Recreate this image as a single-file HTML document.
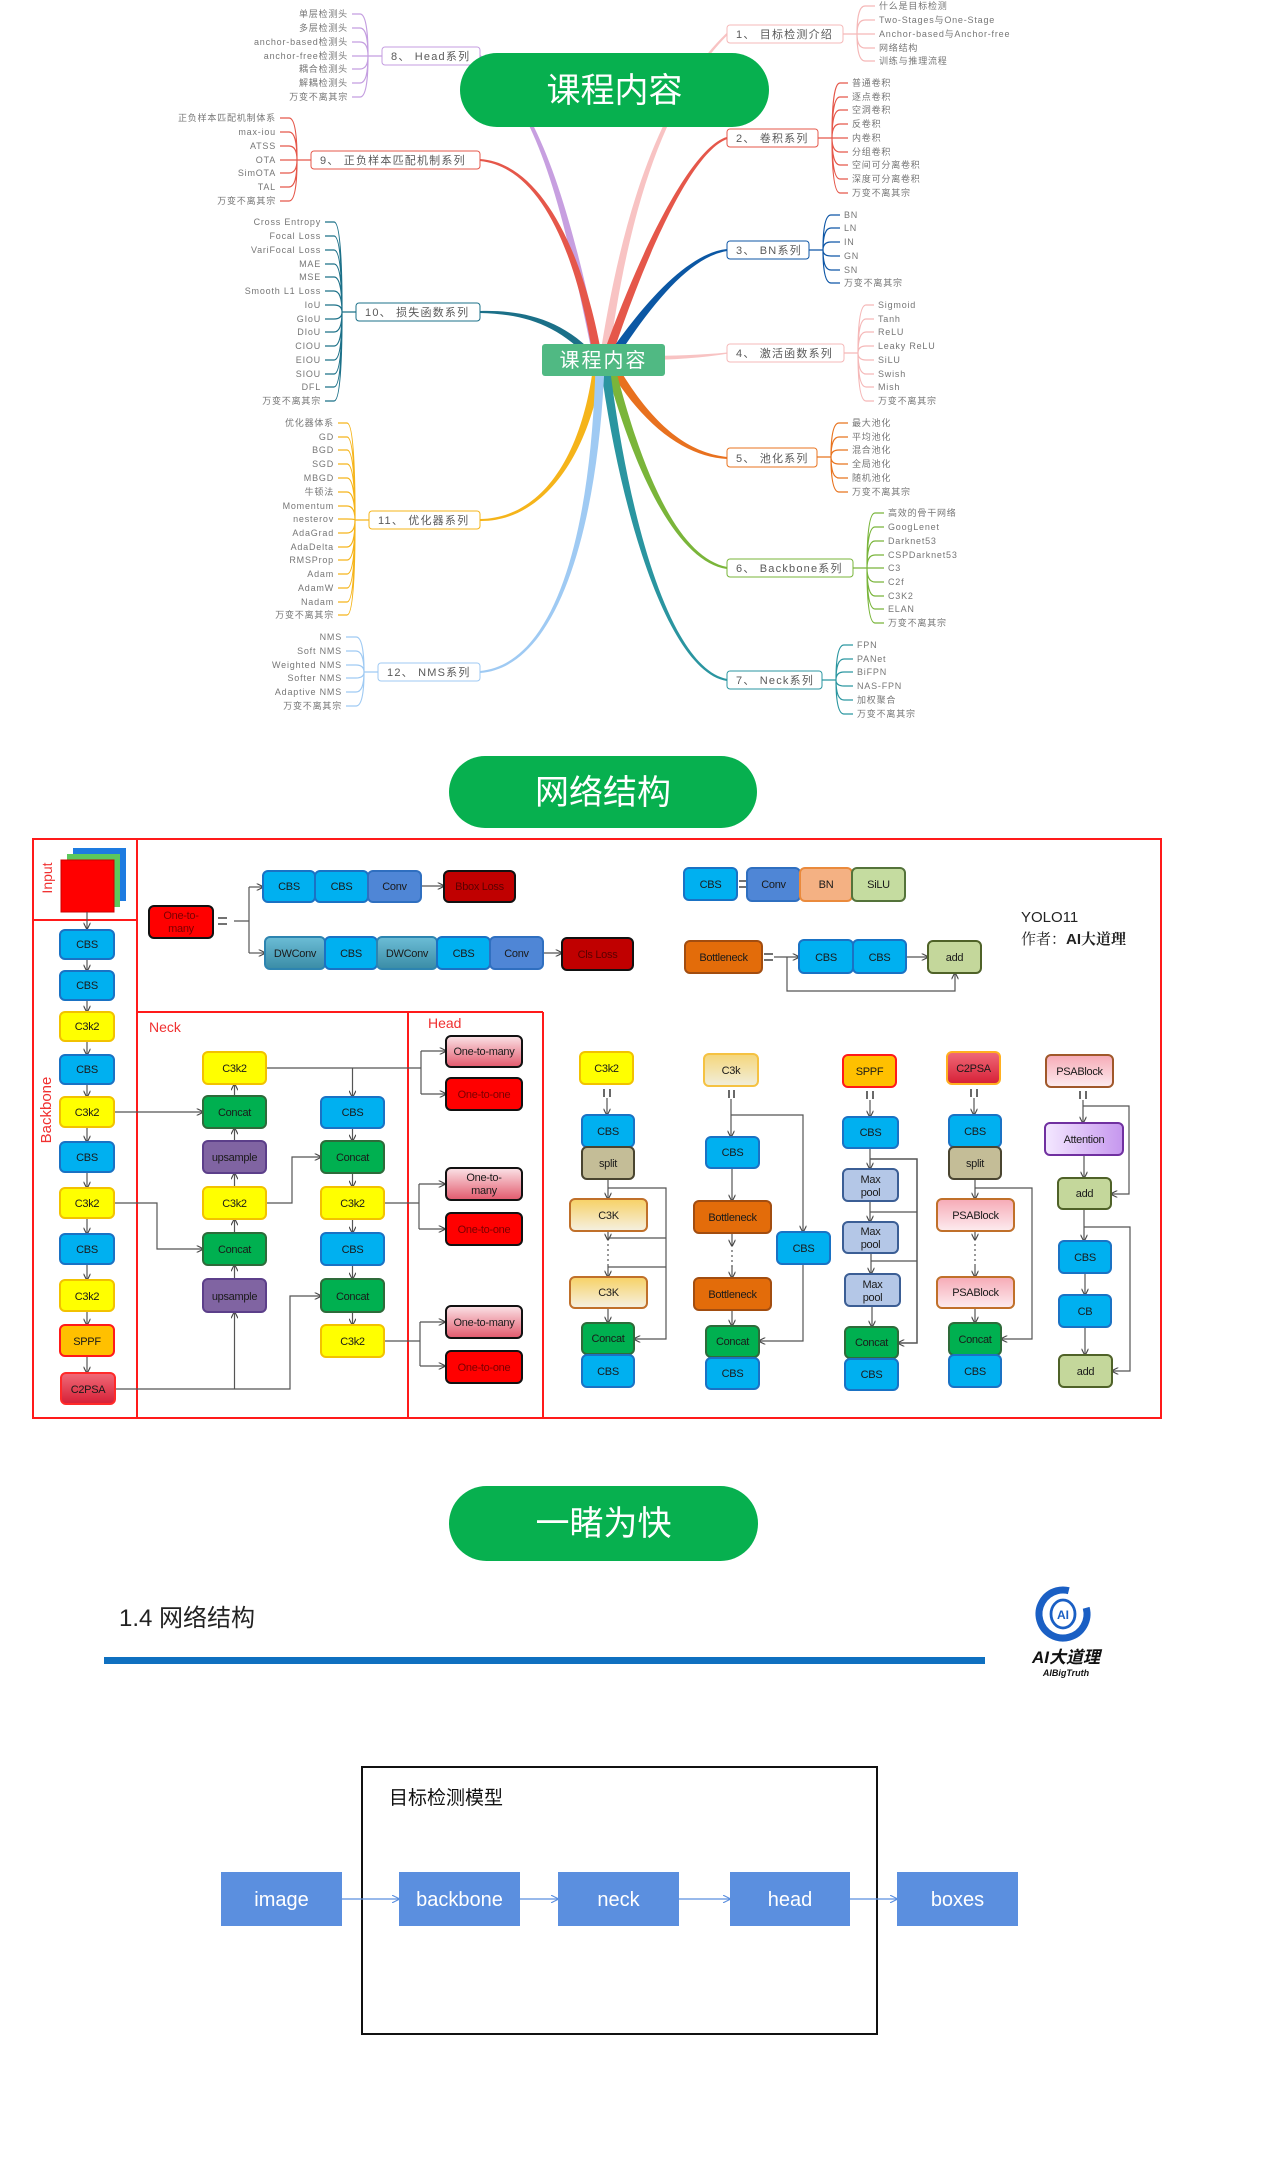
<!DOCTYPE html>
<html><head><meta charset="utf-8">
<style>
html,body{margin:0;padding:0;background:#fff;}
svg{display:block;}
.f{font-family:"Liberation Sans","Noto Sans CJK SC",sans-serif;}
.mc{font-size:9px;fill:#767676;letter-spacing:0.8px;}
.mcl{font-size:9px;fill:#767676;letter-spacing:0.8px;text-anchor:end;}
.mb{font-size:11px;fill:#5a5a5a;letter-spacing:1.2px;}
.nt{font-size:11px;fill:#1a1a1a;text-anchor:middle;letter-spacing:-0.3px;}
.ln{stroke:#555;stroke-width:1.2;fill:none;}
.bx{stroke-width:2;}
.mp{fill:none;stroke-width:1.2;}
</style></head><body>
<svg class="f" width="1280" height="2160" viewBox="0 0 1280 2160" xmlns="http://www.w3.org/2000/svg">
<defs>
<marker id="a" viewBox="0 0 10 10" refX="9" refY="5" markerWidth="7" markerHeight="7" orient="auto" markerUnits="userSpaceOnUse"><path d="M0,0 L10,5 L0,10" fill="none" stroke="#444" stroke-width="1.6"/></marker>
<marker id="ab" viewBox="0 0 10 10" refX="9" refY="5" markerWidth="8" markerHeight="8" orient="auto" markerUnits="userSpaceOnUse"><path d="M0,0 L10,5 L0,10" fill="none" stroke="#5b8fdf" stroke-width="1.4"/></marker>
<linearGradient id="gOtm" x1="0" y1="0" x2="0" y2="1"><stop offset="0" stop-color="#fbe3e7"/><stop offset="1" stop-color="#e2596c"/></linearGradient>
<linearGradient id="gC2" x1="0" y1="0" x2="0" y2="1"><stop offset="0" stop-color="#f06a78"/><stop offset="1" stop-color="#d61f36"/></linearGradient>
<linearGradient id="gC3k" x1="0" y1="0" x2="0" y2="1"><stop offset="0" stop-color="#f5d67a"/><stop offset="1" stop-color="#f1eedc"/></linearGradient>
<linearGradient id="gC3K" x1="0" y1="0" x2="0" y2="1"><stop offset="0" stop-color="#f7d165"/><stop offset="1" stop-color="#f5f0e2"/></linearGradient>
<linearGradient id="gPSA" x1="0" y1="0" x2="0" y2="1"><stop offset="0" stop-color="#f6aab6"/><stop offset="1" stop-color="#fdecef"/></linearGradient>
<linearGradient id="gAtt" x1="0" y1="0" x2="1" y2="0"><stop offset="0" stop-color="#f4e8ff"/><stop offset="1" stop-color="#c596ee"/></linearGradient>
<linearGradient id="gDW" x1="0" y1="0" x2="0" y2="1"><stop offset="0" stop-color="#6cbdd6"/><stop offset="1" stop-color="#3a8ca6"/></linearGradient>
</defs>

<!-- ================= MIND MAP ================= -->
<g stroke="none">
<path fill="#c79fe0" d="M602.4,359.1 C573.4,229.3 546.3,108.5 480.6,55.2 L479.4,56.8 C543.7,111.5 566.6,230.7 593.6,360.9 Z"/>
<path fill="#f8c3c3" d="M608.5,360.6 C623.5,250.5 651.4,111.4 727.7,34.7 L726.3,33.3 C648.6,108.6 616.5,249.5 599.5,359.4 Z"/>
<path fill="#e5574a" d="M610.3,361.5 C643.3,261.1 690.6,151.9 727.3,139.0 L726.7,137.0 C689.4,148.1 636.7,258.9 601.7,358.6 Z"/>
<path fill="#0b57a4" d="M613.7,362.5 C652.9,301.9 690.3,257.0 727.1,251.0 L726.9,249.0 C689.7,253.0 647.1,298.1 606.3,357.5 Z"/>
<path fill="#f8c3c3" d="M640,356 Q690,356 727,352.5 L727,353.8 Q690,360 640,360 Z"/>
<path fill="#e8711f" d="M608.1,367.3 C647.0,431.8 689.8,457.0 726.9,459.0 L727.1,457.0 C690.2,453.0 653.0,428.2 615.9,362.7 Z"/>
<path fill="#7ab53a" d="M605.6,366.1 C636.6,480.9 679.7,562.0 726.8,569.0 L727.2,567.0 C680.3,558.0 643.4,479.1 614.4,363.9 Z"/>
<path fill="#2a95a0" d="M600.5,365.6 C621.5,520.4 669.7,672.0 726.8,681.0 L727.2,679.0 C670.3,668.0 628.5,519.6 609.5,364.4 Z"/>
<path fill="#e5574a" d="M602.4,359.3 C583.5,249.4 540.2,163.0 480.1,159.0 L479.9,161.0 C539.8,167.0 576.5,250.6 593.6,360.7 Z"/>
<path fill="#1b7088" d="M597.6,357.7 C562.6,317.7 520,310 480,311 L480,313 C520,314 557.4,322.3 592.4,362.3 Z"/>
<path fill="#f5b41a" d="M593.5,364.4 C581.5,459.5 540,518 480,519 L480,521 C540,522 588.5,460.5 602.5,365.6 Z"/>
<path fill="#9fcaf3" d="M595.5,364.9 C591.5,519.9 559.8,663.0 479.9,671.0 L480.1,673.0 C560.2,667.0 598.5,520.1 604.5,365.1 Z"/>
</g>

<!-- child connectors -->
<path class="mp" stroke="#f5b8b8" d="M843,34H857M857,34Q857,6 865,6H875M857,34Q857,20 865,20H875M857,34H875M857,34Q857,48 865,48H875M857,34Q857,61 865,61H875"/>
<path class="mp" stroke="#e5574a" d="M818,138H848M832,138Q832,83 840,83H848M832,138Q832,97 840,97H848M832,138Q832,110 840,110H848M832,138Q832,124 840,124H848M832,138Q832,152 840,152H848M832,138Q832,165 840,165H848M832,138Q832,179 840,179H848M832,138Q832,193 840,193H848"/>
<path class="mp" stroke="#0d56a6" d="M809,250H823M823,250Q823,215 831,215H840M823,250Q823,228 831,228H840M823,250Q823,242 831,242H840M823,250Q823,256 831,256H840M823,250Q823,270 831,270H840M823,250Q823,283 831,283H840"/>
<path class="mp" stroke="#f5b8b8" d="M844,353H858M858,353Q858,305 866,305H874M858,353Q858,319 866,319H874M858,353Q858,332 866,332H874M858,353Q858,346 866,346H874M858,353Q858,360 866,360H874M858,353Q858,374 866,374H874M858,353Q858,387 866,387H874M858,353Q858,401 866,401H874"/>
<path class="mp" stroke="#e8731f" d="M817,457H831M831,457Q831,423 839,423H848M831,457Q831,437 839,437H848M831,457Q831,450 839,450H848M831,457Q831,464 839,464H848M831,457Q831,478 839,478H848M831,457Q831,492 839,492H848"/>
<path class="mp" stroke="#79b53a" d="M853,568H884M867,568Q867,513 875,513H884M867,568Q867,527 875,527H884M867,568Q867,541 875,541H884M867,568Q867,555 875,555H884M867,568Q867,582 875,582H884M867,568Q867,596 875,596H884M867,568Q867,609 875,609H884M867,568Q867,623 875,623H884"/>
<path class="mp" stroke="#2a96a0" d="M822,680H836M836,680Q836,645 844,645H853M836,680Q836,659 844,659H853M836,680Q836,672 844,672H853M836,680Q836,686 844,686H853M836,680Q836,700 844,700H853M836,680Q836,714 844,714H853"/>
<path class="mp" stroke="#c49ee0" d="M382,56H352M368,56Q368,14 360,14H352M368,56Q368,28 360,28H352M368,56Q368,42 360,42H352M368,56Q368,69 360,69H352M368,56Q368,83 360,83H352M368,56Q368,97 360,97H352"/>
<path class="mp" stroke="#e5574a" d="M311,160H280M297,160Q297,118 289,118H280M297,160Q297,132 289,132H280M297,160Q297,146 289,146H280M297,160Q297,173 289,173H280M297,160Q297,187 289,187H280M297,160Q297,201 289,201H280"/>
<path class="mp" stroke="#1b7088" d="M356,312H342M342,312Q342,222 334,222H325M342,312Q342,236 334,236H325M342,312Q342,250 334,250H325M342,312Q342,264 334,264H325M342,312Q342,277 334,277H325M342,312Q342,291 334,291H325M342,312Q342,305 334,305H325M342,312Q342,319 334,319H325M342,312Q342,332 334,332H325M342,312Q342,346 334,346H325M342,312Q342,360 334,360H325M342,312Q342,374 334,374H325M342,312Q342,387 334,387H325M342,312Q342,401 334,401H325"/>
<path class="mp" stroke="#f5b41a" d="M369,520H355M355,520Q355,423 347,423H338M355,520Q355,437 347,437H338M355,520Q355,450 347,450H338M355,520Q355,464 347,464H338M355,520Q355,478 347,478H338M355,520Q355,492 347,492H338M355,520Q355,506 347,506H338M355,520Q355,519 347,519H338M355,520Q355,533 347,533H338M355,520Q355,547 347,547H338M355,520Q355,560 347,560H338M355,520Q355,574 347,574H338M355,520Q355,588 347,588H338M355,520Q355,602 347,602H338M355,520Q355,615 347,615H338"/>
<path class="mp" stroke="#9fcaf3" d="M378,672H364M364,672Q364,637 356,637H346M364,672Q364,651 356,651H346M364,672Q364,665 356,665H346M364,672Q364,678 356,678H346M364,672Q364,692 356,692H346M364,672Q364,706 356,706H346"/>

<!-- branch boxes -->
<g fill="#fff" stroke-width="1">
<rect x="727" y="25" width="116" height="18" rx="3" stroke="#f5b8b8"/>
<rect x="727" y="129" width="91" height="18" rx="3" stroke="#e5574a"/>
<rect x="727" y="241" width="82" height="18" rx="3" stroke="#0d56a6"/>
<rect x="727" y="344" width="117" height="18" rx="3" stroke="#f5b8b8"/>
<rect x="727" y="448" width="90" height="19" rx="3" stroke="#e8731f"/>
<rect x="727" y="559" width="126" height="18" rx="3" stroke="#79b53a"/>
<rect x="727" y="671" width="95" height="18" rx="3" stroke="#2a96a0"/>
<rect x="382" y="47" width="98" height="18" rx="3" stroke="#c49ee0"/>
<rect x="311" y="151" width="169" height="18" rx="3" stroke="#e5574a"/>
<rect x="356" y="303" width="124" height="18" rx="3" stroke="#1b7088"/>
<rect x="369" y="511" width="111" height="18" rx="3" stroke="#f5b41a"/>
<rect x="378" y="663" width="102" height="18" rx="3" stroke="#9fcaf3"/>
</g>
<g class="mb">
<text x="736" y="38">1、 目标检测介绍</text>
<text x="736" y="142">2、 卷积系列</text>
<text x="736" y="254">3、 BN系列</text>
<text x="736" y="357">4、 激活函数系列</text>
<text x="736" y="462">5、 池化系列</text>
<text x="736" y="572">6、 Backbone系列</text>
<text x="736" y="684">7、 Neck系列</text>
<text x="391" y="60">8、 Head系列</text>
<text x="320" y="164">9、 正负样本匹配机制系列</text>
<text x="365" y="316">10、 损失函数系列</text>
<text x="378" y="524">11、 优化器系列</text>
<text x="387" y="676">12、 NMS系列</text>
</g>

<!-- children text -->
<g class="mc">
<text x="879" y="9">什么是目标检测</text><text x="879" y="23">Two-Stages与One-Stage</text><text x="879" y="37">Anchor-based与Anchor-free</text><text x="879" y="51">网络结构</text><text x="879" y="64">训练与推理流程</text>
<text x="852" y="86">普通卷积</text><text x="852" y="100">逐点卷积</text><text x="852" y="113">空洞卷积</text><text x="852" y="127">反卷积</text><text x="852" y="141">内卷积</text><text x="852" y="155">分组卷积</text><text x="852" y="168">空间可分离卷积</text><text x="852" y="182">深度可分离卷积</text><text x="852" y="196">万变不离其宗</text>
<text x="844" y="218">BN</text><text x="844" y="231">LN</text><text x="844" y="245">IN</text><text x="844" y="259">GN</text><text x="844" y="273">SN</text><text x="844" y="286">万变不离其宗</text>
<text x="878" y="308">Sigmoid</text><text x="878" y="322">Tanh</text><text x="878" y="335">ReLU</text><text x="878" y="349">Leaky ReLU</text><text x="878" y="363">SiLU</text><text x="878" y="377">Swish</text><text x="878" y="390">Mish</text><text x="878" y="404">万变不离其宗</text>
<text x="852" y="426">最大池化</text><text x="852" y="440">平均池化</text><text x="852" y="453">混合池化</text><text x="852" y="467">全局池化</text><text x="852" y="481">随机池化</text><text x="852" y="495">万变不离其宗</text>
<text x="888" y="516">高效的骨干网络</text><text x="888" y="530">GoogLenet</text><text x="888" y="544">Darknet53</text><text x="888" y="558">CSPDarknet53</text><text x="888" y="571">C3</text><text x="888" y="585">C2f</text><text x="888" y="599">C3K2</text><text x="888" y="612">ELAN</text><text x="888" y="626">万变不离其宗</text>
<text x="857" y="648">FPN</text><text x="857" y="662">PANet</text><text x="857" y="675">BiFPN</text><text x="857" y="689">NAS-FPN</text><text x="857" y="703">加权聚合</text><text x="857" y="717">万变不离其宗</text>
</g>
<g class="mcl">
<text x="348" y="17">单层检测头</text><text x="348" y="31">多层检测头</text><text x="348" y="45">anchor-based检测头</text><text x="348" y="59">anchor-free检测头</text><text x="348" y="72">耦合检测头</text><text x="348" y="86">解耦检测头</text><text x="348" y="100">万变不离其宗</text>
<text x="276" y="121">正负样本匹配机制体系</text><text x="276" y="135">max-iou</text><text x="276" y="149">ATSS</text><text x="276" y="163">OTA</text><text x="276" y="176">SimOTA</text><text x="276" y="190">TAL</text><text x="276" y="204">万变不离其宗</text>
<text x="321" y="225">Cross Entropy</text><text x="321" y="239">Focal Loss</text><text x="321" y="253">VariFocal Loss</text><text x="321" y="267">MAE</text><text x="321" y="280">MSE</text><text x="321" y="294">Smooth L1 Loss</text><text x="321" y="308">IoU</text><text x="321" y="322">GIoU</text><text x="321" y="335">DIoU</text><text x="321" y="349">CIOU</text><text x="321" y="363">EIOU</text><text x="321" y="377">SIOU</text><text x="321" y="390">DFL</text><text x="321" y="404">万变不离其宗</text>
<text x="334" y="426">优化器体系</text><text x="334" y="440">GD</text><text x="334" y="453">BGD</text><text x="334" y="467">SGD</text><text x="334" y="481">MBGD</text><text x="334" y="495">牛顿法</text><text x="334" y="509">Momentum</text><text x="334" y="522">nesterov</text><text x="334" y="536">AdaGrad</text><text x="334" y="550">AdaDelta</text><text x="334" y="563">RMSProp</text><text x="334" y="577">Adam</text><text x="334" y="591">AdamW</text><text x="334" y="605">Nadam</text><text x="334" y="618">万变不离其宗</text>
<text x="342" y="640">NMS</text><text x="342" y="654">Soft NMS</text><text x="342" y="668">Weighted NMS</text><text x="342" y="681">Softer NMS</text><text x="342" y="695">Adaptive NMS</text><text x="342" y="709">万变不离其宗</text>
</g>

<!-- central node -->
<rect x="542" y="344" width="123" height="32" rx="3" fill="#50b983"/>
<text x="603.5" y="367" font-size="20" fill="#fff" text-anchor="middle" letter-spacing="2">课程内容</text>

<!-- pill 1 -->
<rect x="460" y="53" width="309" height="74" rx="37" fill="#07b04f"/>
<text x="614.5" y="102" font-size="34" fill="#fff" text-anchor="middle">课程内容</text>

<!-- pill 2 -->
<rect x="449" y="756" width="308" height="72" rx="36" fill="#07b04f"/>
<text x="603" y="804" font-size="34" fill="#fff" text-anchor="middle">网络结构</text>

<!-- ================= NETWORK ================= -->
<g fill="none" stroke="#ff1a1a" stroke-width="2">
<rect x="33" y="839" width="1128" height="579"/>
<line x1="137" y1="839" x2="137" y2="1418"/>
<line x1="33" y1="920" x2="137" y2="920"/>
<line x1="137" y1="1012" x2="543" y2="1012"/>
<line x1="408" y1="1012" x2="408" y2="1418"/>
<line x1="543" y1="1012" x2="543" y2="1418"/>
</g>
<text transform="translate(52,878) rotate(-90)" font-size="14" fill="#f03030" text-anchor="middle">Input</text>
<text transform="translate(51,1110) rotate(-90)" font-size="15" fill="#f03030" text-anchor="middle">Backbone</text>
<text x="149" y="1032" font-size="14" fill="#f03030">Neck</text>
<text x="428" y="1028" font-size="14" fill="#f03030">Head</text>

<!-- input image stack -->
<rect x="73" y="848" width="53" height="53" fill="#1e7be0"/>
<rect x="67" y="854" width="53" height="53" fill="#5cc85c"/>
<rect x="61" y="860" width="53" height="52" fill="#ff0000" stroke="#c00" stroke-width="1"/>

<!-- connectors network -->
<g class="ln">
<path d="M87,912V929" marker-end="url(#a)"/>
<path d="M87,959V971" marker-end="url(#a)"/>
<path d="M87,1000V1012" marker-end="url(#a)"/>
<path d="M87,1041V1055" marker-end="url(#a)"/>
<path d="M87,1084V1097" marker-end="url(#a)"/>
<path d="M87,1127V1142" marker-end="url(#a)"/>
<path d="M87,1172V1188" marker-end="url(#a)"/>
<path d="M87,1218V1234" marker-end="url(#a)"/>
<path d="M87,1264V1280" marker-end="url(#a)"/>
<path d="M87,1311V1325" marker-end="url(#a)"/>
<path d="M87,1356V1373" marker-end="url(#a)"/>
<path d="M114,1112H203" marker-end="url(#a)"/>
<path d="M114,1203H157V1249H203" marker-end="url(#a)"/>
<path d="M115,1389H290V1296H321" marker-end="url(#a)"/>
<path d="M234.5,1389V1312" marker-end="url(#a)"/>
<path d="M234.5,1096V1084" marker-end="url(#a)"/>
<path d="M234.5,1141V1128" marker-end="url(#a)"/>
<path d="M234.5,1187V1173" marker-end="url(#a)"/>
<path d="M234.5,1233V1219" marker-end="url(#a)"/>
<path d="M234.5,1279V1265" marker-end="url(#a)"/>
<path d="M266,1203H292V1157H321" marker-end="url(#a)"/>
<path d="M266,1068H421"/>
<path d="M352.5,1068V1097" marker-end="url(#a)"/>
<path d="M421,1051V1094"/>
<path d="M421,1051H446" marker-end="url(#a)"/>
<path d="M421,1094H446" marker-end="url(#a)"/>
<path d="M352.5,1128V1141" marker-end="url(#a)"/>
<path d="M352.5,1173V1187" marker-end="url(#a)"/>
<path d="M352.5,1219V1233" marker-end="url(#a)"/>
<path d="M352.5,1265V1279" marker-end="url(#a)"/>
<path d="M352.5,1312V1325" marker-end="url(#a)"/>
<path d="M384,1203H419M419,1184V1229"/>
<path d="M419,1184H445" marker-end="url(#a)"/>
<path d="M419,1229H445" marker-end="url(#a)"/>
<path d="M384,1341H420M420,1322V1366"/>
<path d="M420,1322H445" marker-end="url(#a)"/>
<path d="M420,1366H445" marker-end="url(#a)"/>
<path d="M234,921H249M249,887V953"/>
<path d="M249,887H263" marker-end="url(#a)"/>
<path d="M249,953H265" marker-end="url(#a)"/>
<path d="M421,886H444" marker-end="url(#a)"/>
<path d="M543,953H562" marker-end="url(#a)"/>
<path d="M774,957H799" marker-end="url(#a)"/>
<path d="M787,957V991H955V973" marker-end="url(#a)"/>
<path d="M906,957H928" marker-end="url(#a)"/>
<path d="M607,1098V1115" marker-end="url(#a)"/>
<path d="M608,1179V1199" marker-end="url(#a)"/>
<path d="M608,1188H666V1339H634" marker-end="url(#a)"/>
<path d="M608,1231V1240" marker-end="url(#a)"/>
<path d="M608,1238H666M608,1267H666"/>
<path d="M608,1244V1262" stroke-dasharray="2,3"/>
<path d="M608,1264V1277" marker-end="url(#a)"/>
<path d="M608,1308V1323" marker-end="url(#a)"/>
<path d="M731,1099V1137" marker-end="url(#a)"/>
<path d="M731,1115H803V1232" marker-end="url(#a)"/>
<path d="M732,1168V1201" marker-end="url(#a)"/>
<path d="M732,1233V1246" marker-end="url(#a)"/>
<path d="M732,1250V1268" stroke-dasharray="2,3"/>
<path d="M732,1266V1278" marker-end="url(#a)"/>
<path d="M732,1310V1326" marker-end="url(#a)"/>
<path d="M803,1264V1341H759" marker-end="url(#a)"/>
<path d="M870,1100V1117" marker-end="url(#a)"/>
<path d="M870,1148V1169" marker-end="url(#a)"/>
<path d="M870,1159H917V1343H898" marker-end="url(#a)" stroke-width="1.5"/>
<path d="M870,1201V1222" marker-end="url(#a)"/>
<path d="M870,1212H917M871,1261H917"/>
<path d="M871,1253V1274" marker-end="url(#a)"/>
<path d="M872,1306V1327" marker-end="url(#a)"/>
<path d="M974,1098V1115" marker-end="url(#a)"/>
<path d="M975,1179V1199" marker-end="url(#a)"/>
<path d="M975,1188H1032V1339H1001" marker-end="url(#a)"/>
<path d="M975,1231V1240" marker-end="url(#a)"/>
<path d="M975,1244V1262" stroke-dasharray="2,3"/>
<path d="M975,1264V1277" marker-end="url(#a)"/>
<path d="M975,1308V1323" marker-end="url(#a)"/>
<path d="M1083,1100V1123" marker-end="url(#a)"/>
<path d="M1083,1106H1129V1194H1111" marker-end="url(#a)"/>
<path d="M1084,1155V1178" marker-end="url(#a)"/>
<path d="M1084,1209V1241" marker-end="url(#a)"/>
<path d="M1084,1227H1130V1371H1112" marker-end="url(#a)"/>
<path d="M1085,1273V1295" marker-end="url(#a)"/>
<path d="M1085,1327V1355" marker-end="url(#a)"/>
</g>
<g stroke="#444" stroke-width="1.6" fill="none">
<path d="M604,1089V1097M610,1089V1097"/>
<path d="M729,1090V1098M734,1090V1098"/>
<path d="M867,1091V1099M873,1091V1099"/>
<path d="M971,1089V1097M977,1089V1097"/>
<path d="M1080,1091V1099M1086,1091V1099"/>
<path d="M218,918H227M218,924H227"/>
<path d="M739,881H747M739,887H747"/>
<path d="M764,954H773M764,960H773"/>
</g>

<!-- boxes -->
<g class="bx">
<rect x="60" y="930" width="54" height="29" rx="5" fill="#00b0f0" stroke="#1a72c4"/>
<rect x="60" y="971" width="54" height="29" rx="5" fill="#00b0f0" stroke="#1a72c4"/>
<rect x="60" y="1012" width="54" height="29" rx="5" fill="#ffff00" stroke="#f2c200"/>
<rect x="60" y="1055" width="54" height="29" rx="5" fill="#00b0f0" stroke="#1a72c4"/>
<rect x="60" y="1097" width="54" height="30" rx="5" fill="#ffff00" stroke="#f2c200"/>
<rect x="60" y="1142" width="54" height="30" rx="5" fill="#00b0f0" stroke="#1a72c4"/>
<rect x="60" y="1188" width="54" height="30" rx="5" fill="#ffff00" stroke="#f2c200"/>
<rect x="60" y="1234" width="54" height="30" rx="5" fill="#00b0f0" stroke="#1a72c4"/>
<rect x="60" y="1280" width="54" height="31" rx="5" fill="#ffff00" stroke="#f2c200"/>
<rect x="60" y="1325" width="54" height="31" rx="5" fill="#ffc000" stroke="#ff1a1a"/>
<rect x="61" y="1373" width="54" height="31" rx="5" fill="url(#gC2)" stroke="#ff2a2a"/>
<rect x="203" y="1052" width="63" height="32" rx="5" fill="#ffff00" stroke="#f2c200"/>
<rect x="203" y="1096" width="63" height="32" rx="5" fill="#00b050" stroke="#2e6b3a"/>
<rect x="203" y="1141" width="63" height="32" rx="5" fill="#8064a2" stroke="#5c3f8a"/>
<rect x="203" y="1187" width="63" height="32" rx="5" fill="#ffff00" stroke="#f2c200"/>
<rect x="203" y="1233" width="63" height="32" rx="5" fill="#00b050" stroke="#2e6b3a"/>
<rect x="203" y="1279" width="63" height="33" rx="5" fill="#8064a2" stroke="#5c3f8a"/>
<rect x="321" y="1097" width="63" height="31" rx="5" fill="#00b0f0" stroke="#1a72c4"/>
<rect x="321" y="1141" width="63" height="32" rx="5" fill="#00b050" stroke="#2e6b3a"/>
<rect x="321" y="1187" width="63" height="32" rx="5" fill="#ffff00" stroke="#f2c200"/>
<rect x="321" y="1233" width="63" height="32" rx="5" fill="#00b0f0" stroke="#1a72c4"/>
<rect x="321" y="1279" width="63" height="33" rx="5" fill="#00b050" stroke="#2e6b3a"/>
<rect x="321" y="1325" width="63" height="32" rx="5" fill="#ffff00" stroke="#f2c200"/>
<rect x="446" y="1036" width="76" height="31" rx="5" fill="url(#gOtm)" stroke="#111"/>
<rect x="446" y="1078" width="76" height="32" rx="5" fill="#ff0000" stroke="#111"/>
<rect x="446" y="1168" width="76" height="32" rx="5" fill="url(#gOtm)" stroke="#111"/>
<rect x="446" y="1213" width="76" height="32" rx="5" fill="#ff0000" stroke="#111"/>
<rect x="446" y="1306" width="76" height="32" rx="5" fill="url(#gOtm)" stroke="#111"/>
<rect x="446" y="1351" width="76" height="32" rx="5" fill="#ff0000" stroke="#111"/>
<rect x="149" y="906" width="64" height="32" rx="5" fill="#ff0000" stroke="#111"/>
<rect x="263" y="871" width="52" height="31" rx="5" fill="#00b0f0" stroke="#1a72c4"/>
<rect x="315" y="871" width="53" height="31" rx="5" fill="#00b0f0" stroke="#1a72c4"/>
<rect x="368" y="871" width="53" height="31" rx="5" fill="#4f86d6" stroke="#2f6fc0"/>
<rect x="444" y="871" width="71" height="31" rx="5" fill="#c00000" stroke="#111"/>
<rect x="265" y="937" width="60" height="32" rx="5" fill="url(#gDW)" stroke="#2d84b0"/>
<rect x="325" y="937" width="52" height="32" rx="5" fill="#00b0f0" stroke="#1a72c4"/>
<rect x="377" y="937" width="60" height="32" rx="5" fill="url(#gDW)" stroke="#2d84b0"/>
<rect x="437" y="937" width="53" height="32" rx="5" fill="#00b0f0" stroke="#1a72c4"/>
<rect x="490" y="937" width="53" height="32" rx="5" fill="#4f86d6" stroke="#2f6fc0"/>
<rect x="562" y="938" width="71" height="32" rx="5" fill="#c00000" stroke="#111"/>
<rect x="684" y="868" width="53" height="32" rx="5" fill="#00b0f0" stroke="#1a72c4"/>
<rect x="747" y="868" width="53" height="33" rx="5" fill="#4f86d6" stroke="#2f6fc0"/>
<rect x="800" y="868" width="52" height="33" rx="5" fill="#f4b183" stroke="#ea8a3c"/>
<rect x="852" y="868" width="53" height="33" rx="5" fill="#c5dca0" stroke="#54733a"/>
<rect x="685" y="941" width="77" height="32" rx="5" fill="#e36c0a" stroke="#a24d10"/>
<rect x="799" y="940" width="54" height="33" rx="5" fill="#00b0f0" stroke="#1a72c4"/>
<rect x="853" y="940" width="53" height="33" rx="5" fill="#00b0f0" stroke="#1a72c4"/>
<rect x="928" y="941" width="53" height="32" rx="5" fill="#c4d79b" stroke="#4f6228"/>
<rect x="580" y="1052" width="53" height="32" rx="5" fill="#ffff00" stroke="#f2c200"/>
<rect x="582" y="1115" width="52" height="32" rx="5" fill="#00b0f0" stroke="#1a72c4"/>
<rect x="582" y="1147" width="52" height="32" rx="5" fill="#c4bd97" stroke="#4a4530"/>
<rect x="570" y="1199" width="77" height="32" rx="5" fill="url(#gC3K)" stroke="#c0702a"/>
<rect x="570" y="1277" width="77" height="31" rx="5" fill="url(#gC3K)" stroke="#c0702a"/>
<rect x="582" y="1323" width="52" height="31" rx="5" fill="#00b050" stroke="#2e6b3a"/>
<rect x="582" y="1355" width="52" height="32" rx="5" fill="#00b0f0" stroke="#1a72c4"/>
<rect x="704" y="1054" width="54" height="32" rx="5" fill="url(#gC3k)" stroke="#f5c242"/>
<rect x="706" y="1137" width="53" height="31" rx="5" fill="#00b0f0" stroke="#1a72c4"/>
<rect x="694" y="1201" width="77" height="32" rx="5" fill="#e36c0a" stroke="#a24d10"/>
<rect x="694" y="1278" width="77" height="32" rx="5" fill="#e36c0a" stroke="#a24d10"/>
<rect x="706" y="1326" width="53" height="31" rx="5" fill="#00b050" stroke="#2e6b3a"/>
<rect x="706" y="1358" width="53" height="31" rx="5" fill="#00b0f0" stroke="#1a72c4"/>
<rect x="777" y="1232" width="53" height="32" rx="5" fill="#00b0f0" stroke="#1a72c4"/>
<rect x="843" y="1055" width="53" height="32" rx="5" fill="#ffc000" stroke="#ff1a1a"/>
<rect x="843" y="1117" width="55" height="31" rx="5" fill="#00b0f0" stroke="#1a72c4"/>
<rect x="843" y="1169" width="55" height="32" rx="5" fill="#b4c7e7" stroke="#3b5e95"/>
<rect x="843" y="1222" width="55" height="31" rx="5" fill="#b4c7e7" stroke="#3b5e95"/>
<rect x="845" y="1274" width="55" height="32" rx="5" fill="#b4c7e7" stroke="#3b5e95"/>
<rect x="845" y="1327" width="53" height="31" rx="5" fill="#00b050" stroke="#2e6b3a"/>
<rect x="845" y="1359" width="53" height="31" rx="5" fill="#00b0f0" stroke="#1a72c4"/>
<rect x="947" y="1052" width="53" height="32" rx="5" fill="url(#gC2)" stroke="#ffb020"/>
<rect x="949" y="1115" width="52" height="32" rx="5" fill="#00b0f0" stroke="#1a72c4"/>
<rect x="949" y="1147" width="52" height="32" rx="5" fill="#c4bd97" stroke="#4a4530"/>
<rect x="937" y="1199" width="77" height="32" rx="5" fill="url(#gPSA)" stroke="#c0702a"/>
<rect x="937" y="1277" width="77" height="31" rx="5" fill="url(#gPSA)" stroke="#c0702a"/>
<rect x="949" y="1323" width="52" height="32" rx="5" fill="#00b050" stroke="#2e6b3a"/>
<rect x="949" y="1355" width="52" height="32" rx="5" fill="#00b0f0" stroke="#1a72c4"/>
<rect x="1046" y="1055" width="67" height="32" rx="5" fill="url(#gPSA)" stroke="#a0582a"/>
<rect x="1045" y="1123" width="78" height="32" rx="5" fill="url(#gAtt)" stroke="#7030a0"/>
<rect x="1058" y="1178" width="53" height="31" rx="5" fill="#c4d79b" stroke="#4f6228"/>
<rect x="1059" y="1241" width="52" height="32" rx="5" fill="#00b0f0" stroke="#1a72c4"/>
<rect x="1059" y="1295" width="52" height="32" rx="5" fill="#00b0f0" stroke="#1a72c4"/>
<rect x="1059" y="1355" width="53" height="32" rx="5" fill="#c4d79b" stroke="#4f6228"/>
</g>

<!-- box labels -->
<g class="nt">
<text x="87" y="948">CBS</text><text x="87" y="989">CBS</text><text x="87" y="1030">C3k2</text><text x="87" y="1073">CBS</text><text x="87" y="1116">C3k2</text><text x="87" y="1161">CBS</text><text x="87" y="1207">C3k2</text><text x="87" y="1253">CBS</text><text x="87" y="1300">C3k2</text><text x="87" y="1345">SPPF</text><text x="88" y="1393">C2PSA</text>
<text x="234.5" y="1072">C3k2</text><text x="234.5" y="1116">Concat</text><text x="234.5" y="1161">upsample</text><text x="234.5" y="1207">C3k2</text><text x="234.5" y="1253">Concat</text><text x="234.5" y="1300">upsample</text>
<text x="352.5" y="1116">CBS</text><text x="352.5" y="1161">Concat</text><text x="352.5" y="1207">C3k2</text><text x="352.5" y="1253">CBS</text><text x="352.5" y="1300">Concat</text><text x="352.5" y="1345">C3k2</text>
<text x="484" y="1055">One-to-many</text><text x="484" y="1098" fill="#7a0000">One-to-one</text>
<text x="484" y="1181">One-to-</text><text x="484" y="1194">many</text><text x="484" y="1233" fill="#7a0000">One-to-one</text>
<text x="484" y="1326">One-to-many</text><text x="484" y="1371" fill="#7a0000">One-to-one</text>
<text x="181" y="919" fill="#7a0000">One-to-</text><text x="181" y="932" fill="#7a0000">many</text>
<text x="289" y="890">CBS</text><text x="341.5" y="890">CBS</text><text x="394.5" y="890">Conv</text><text x="479.5" y="890" fill="#5a0000">Bbox Loss</text>
<text x="295" y="957">DWConv</text><text x="351" y="957">CBS</text><text x="407" y="957">DWConv</text><text x="463.5" y="957">CBS</text><text x="516.5" y="957">Conv</text><text x="597.5" y="958" fill="#5a0000">Cls Loss</text>
<text x="710.5" y="888">CBS</text><text x="773.5" y="888">Conv</text><text x="826" y="888">BN</text><text x="878.5" y="888">SiLU</text>
<text x="723.5" y="961">Bottleneck</text><text x="826" y="961">CBS</text><text x="879.5" y="961">CBS</text><text x="954.5" y="961">add</text>
<text x="606.5" y="1072">C3k2</text><text x="608" y="1135">CBS</text><text x="608" y="1167">split</text><text x="608.5" y="1219">C3K</text><text x="608.5" y="1296">C3K</text><text x="608" y="1342">Concat</text><text x="608" y="1375">CBS</text>
<text x="731" y="1074">C3k</text><text x="732.5" y="1156">CBS</text><text x="732.5" y="1221">Bottleneck</text><text x="732.5" y="1298">Bottleneck</text><text x="732.5" y="1345">Concat</text><text x="732.5" y="1377">CBS</text><text x="803.5" y="1252">CBS</text>
<text x="869.5" y="1075">SPPF</text><text x="870.5" y="1136">CBS</text><text x="870.5" y="1183">Max</text><text x="870.5" y="1196">pool</text><text x="870.5" y="1235">Max</text><text x="870.5" y="1248">pool</text><text x="872.5" y="1288">Max</text><text x="872.5" y="1301">pool</text><text x="871.5" y="1346">Concat</text><text x="871.5" y="1378">CBS</text>
<text x="973.5" y="1072">C2PSA</text><text x="975" y="1135">CBS</text><text x="975" y="1167">split</text><text x="975.5" y="1219">PSABlock</text><text x="975.5" y="1296">PSABlock</text><text x="975" y="1343">Concat</text><text x="975" y="1375">CBS</text>
<text x="1079.5" y="1075">PSABlock</text><text x="1084" y="1143">Attention</text><text x="1084.5" y="1197">add</text><text x="1085" y="1261">CBS</text><text x="1085" y="1315">CB</text><text x="1085.5" y="1375">add</text>
</g>

<text x="1021" y="922" font-size="15" fill="#222">YOLO11</text>
<text x="1021" y="944" font-size="15" fill="#222"><tspan font-family="'Noto Serif CJK SC',serif">作者：</tspan><tspan font-weight="bold">AI</tspan><tspan font-family="'Noto Serif CJK SC',serif" font-weight="bold">大道理</tspan></text>

<!-- ================= BOTTOM ================= -->
<rect x="449" y="1486" width="309" height="75" rx="37.5" fill="#07b04f"/>
<text x="603.5" y="1535" font-size="34" fill="#fff" text-anchor="middle">一睹为快</text>

<text x="119" y="1626" font-size="24" fill="#222">1.4 网络结构</text>
<rect x="104" y="1657" width="881" height="7" fill="#0f70c0"/>

<!-- logo -->
<circle cx="1063" cy="1614" r="24" fill="none" stroke="#1a5fc4" stroke-width="7" stroke-dasharray="125 26" transform="rotate(-15 1063 1614)"/>
<ellipse cx="1063" cy="1614" rx="12" ry="14" fill="none" stroke="#1a5fc4" stroke-width="2.8"/>
<text x="1063" y="1619" font-size="12" font-weight="bold" fill="#1a5fc4" text-anchor="middle">AI</text>
<text x="1066" y="1663" font-size="17" font-weight="bold" font-style="italic" fill="#111" text-anchor="middle">AI大道理</text>
<text x="1066" y="1676" font-size="9" font-weight="bold" font-style="italic" fill="#111" text-anchor="middle">AIBigTruth</text>

<!-- detection model diagram -->
<rect x="362" y="1767" width="515" height="267" fill="none" stroke="#111" stroke-width="2"/>
<text x="389" y="1804" font-size="19" fill="#111">目标检测模型</text>
<g fill="#5b8fdf">
<rect x="221" y="1872" width="121" height="54"/>
<rect x="399" y="1872" width="121" height="54"/>
<rect x="558" y="1872" width="121" height="54"/>
<rect x="730" y="1872" width="120" height="54"/>
<rect x="897" y="1872" width="121" height="54"/>
</g>
<g font-size="20" fill="#fff" text-anchor="middle">
<text x="281.5" y="1906">image</text>
<text x="459.5" y="1906">backbone</text>
<text x="618.5" y="1906">neck</text>
<text x="790" y="1906">head</text>
<text x="957.5" y="1906">boxes</text>
</g>
<g stroke="#5b8fdf" stroke-width="1.2" fill="none">
<path d="M342,1899H399" marker-end="url(#ab)"/>
<path d="M520,1899H558" marker-end="url(#ab)"/>
<path d="M679,1899H730" marker-end="url(#ab)"/>
<path d="M850,1899H897" marker-end="url(#ab)"/>
</g>
</svg>
</body></html>
